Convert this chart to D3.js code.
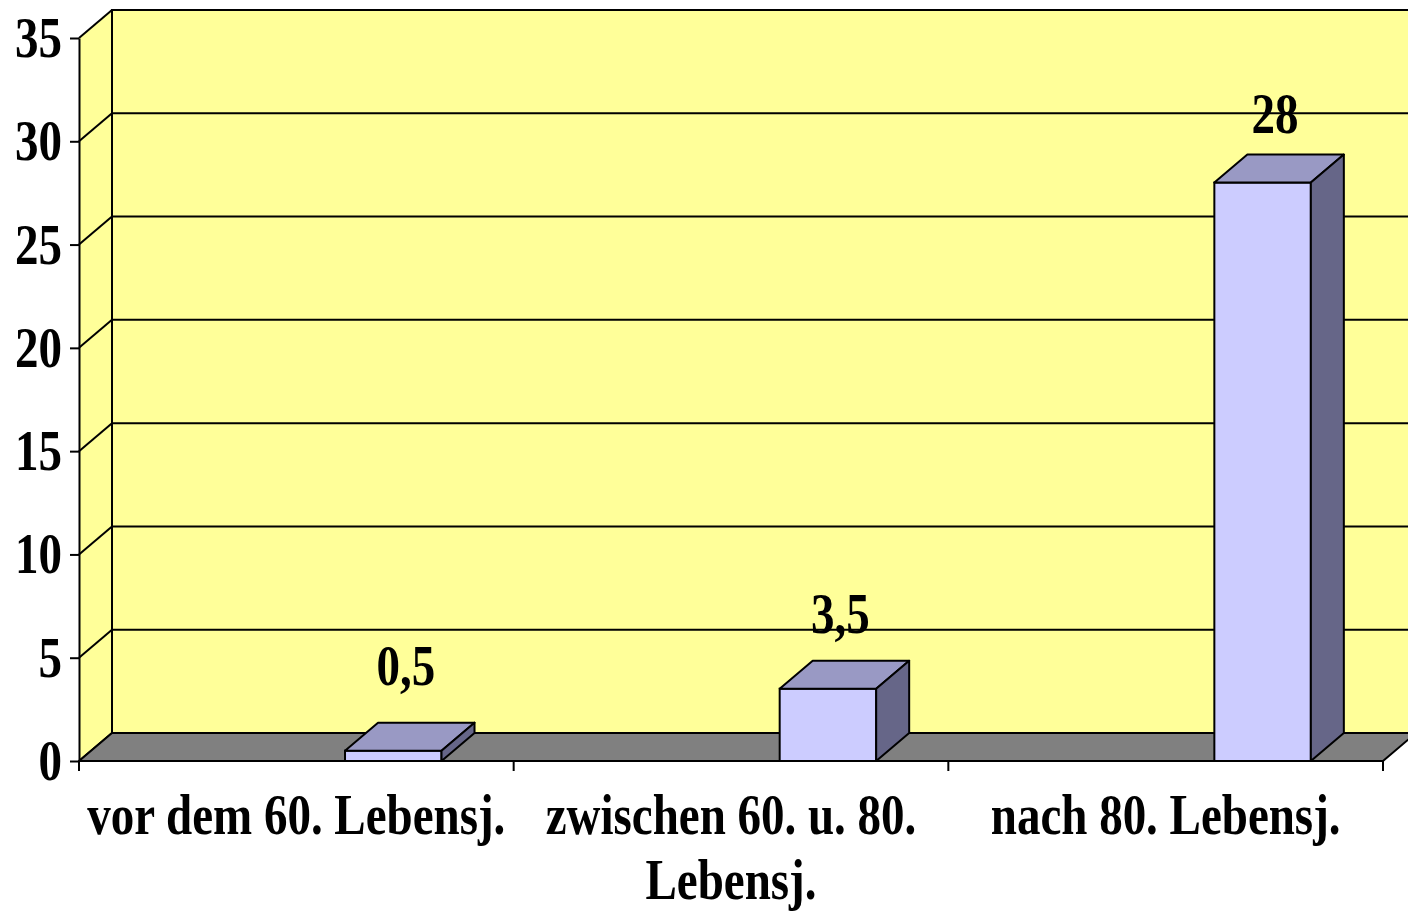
<!DOCTYPE html>
<meta charset="utf-8">
<script src="https://cdn.jsdelivr.net/npm/d3@7"></script>
<style>
  body { margin: 0; background: #fff; }
  text { font-family: "Liberation Serif", "Times New Roman", serif; font-weight: bold; fill: #000; }
</style>
<body>
<script>
  // data
  var categories = ["vor dem 60. Lebensj.", "zwischen 60. u. 80. Lebensj.", "nach 80. Lebensj."];
  var values = [0.5, 3.5, 28];
  var yTicks = [0, 5, 10, 15, 20, 25, 30, 35];

  var W = 1408, H = 914;
  var plotLeft = 79, plotRight = 1383, plotBottom = 761, plotTop = 38;
  var dx = 33, dy = 28;          // depth of the 3d box
  var squeeze = 0.81;            // text looks horizontally narrowed
  var fontSize = 58;

  var svg = d3.select("body").append("svg")
    .attr("width", W).attr("height", H);

  var x = d3.scaleBand().domain(categories).range([plotLeft, plotRight]).padding(0);
  var y = d3.scaleLinear().domain([0, 35]).range([plotBottom, plotTop]);

  // back wall
  svg.append("rect")
    .attr("x", plotLeft + dx).attr("y", plotTop - dy)
    .attr("width", W).attr("height", plotBottom - plotTop)
    .attr("fill", "#FFFF99");
  // side wall
  svg.append("polygon")
    .attr("points", [[plotLeft, plotBottom], [plotLeft, plotTop], [plotLeft + dx, plotTop - dy], [plotLeft + dx, plotBottom - dy]].join(" "))
    .attr("fill", "#FFFF99");

  // gridlines: back wall + side wall diagonals
  yTicks.forEach(function (t) {
    if (t > 0 && t < 35) {
      svg.append("line")
        .attr("x1", plotLeft + dx).attr("x2", W + 10)
        .attr("y1", y(t) - dy).attr("y2", y(t) - dy)
        .attr("stroke", "#000").attr("stroke-width", 2);
    }
    svg.append("line")
      .attr("x1", plotLeft).attr("y1", y(t))
      .attr("x2", plotLeft + dx).attr("y2", y(t) - dy)
      .attr("stroke", "#000").attr("stroke-width", 2);
  });
  // back wall frame
  svg.append("path")
    .attr("d", "M" + (plotLeft + dx) + "," + (plotBottom - dy) + "V" + (plotTop - dy) + "H" + (W + 10))
    .attr("fill", "none").attr("stroke", "#000").attr("stroke-width", 2);

  // floor
  svg.append("polygon")
    .attr("points", [[plotLeft, plotBottom], [plotRight, plotBottom], [plotRight + dx, plotBottom - dy], [plotLeft + dx, plotBottom - dy]].join(" "))
    .attr("fill", "#808080").attr("stroke", "#000").attr("stroke-width", 2)
    .attr("stroke-linejoin", "round");

  // y axis
  var yAxis = svg.append("g")
    .attr("transform", "translate(" + plotLeft + ",0)")
    .call(d3.axisLeft(y).tickValues(yTicks).tickSize(9).tickSizeOuter(0).tickFormat(""));
  yAxis.select(".domain").attr("stroke-width", 2);
  yAxis.selectAll(".tick line").attr("stroke-width", 2);

  yTicks.forEach(function (t) {
    svg.append("g")
      .attr("transform", "translate(62," + (y(t) + 19) + ") scale(" + squeeze + ",1)")
      .append("text")
      .attr("text-anchor", "end")
      .style("font-size", fontSize + "px")
      .text(t);
  });

  // x axis line and ticks at band edges
  svg.append("line")
    .attr("x1", plotLeft).attr("x2", plotRight)
    .attr("y1", plotBottom).attr("y2", plotBottom)
    .attr("stroke", "#000").attr("stroke-width", 2);
  var edges = categories.map(function (c) { return x(c); }).concat([plotRight]);
  edges.forEach(function (e) {
    svg.append("line")
      .attr("x1", e).attr("x2", e)
      .attr("y1", plotBottom).attr("y2", plotBottom + 10)
      .attr("stroke", "#000").attr("stroke-width", 2);
  });

  // bars
  var bw = x.bandwidth() * 0.222;
  var boff = x.bandwidth() * 0.612;
  var bars = svg.selectAll(".bar").data(values).enter().append("g").attr("class", "bar");
  bars.each(function (v, i) {
    var g = d3.select(this);
    var x0 = x(categories[i]) + boff, x1 = x0 + bw;
    var y0 = y(0), y1 = y(v);
    g.append("rect")
      .attr("x", x0).attr("y", y1).attr("width", bw).attr("height", y0 - y1)
      .attr("fill", "#CCCCFF").attr("stroke", "#000").attr("stroke-width", 2);
    g.append("polygon")
      .attr("points", [[x0, y1], [x1, y1], [x1 + dx, y1 - dy], [x0 + dx, y1 - dy]].join(" "))
      .attr("fill", "#9999C4").attr("stroke", "#000").attr("stroke-width", 2)
      .attr("stroke-linejoin", "round");
    g.append("polygon")
      .attr("points", [[x1, y0], [x1, y1], [x1 + dx, y1 - dy], [x1 + dx, y0 - dy]].join(" "))
      .attr("fill", "#666688").attr("stroke", "#000").attr("stroke-width", 2)
      .attr("stroke-linejoin", "round");

    // value label
    var off = 22 + 18 * Math.exp(-v / 3);
    svg.append("g")
      .attr("transform", "translate(" + (x0 + bw / 2 + dx / 2 - 4) + "," + (y1 - dy - off) + ") scale(" + squeeze + ",1)")
      .append("text")
      .attr("text-anchor", "middle")
      .style("font-size", fontSize + "px")
      .text(String(v).replace(".", ","));
  });

  // category labels, wrapped
  categories.forEach(function (c) {
    var cx = x(c) + x.bandwidth() / 2;
    var g = svg.append("g")
      .attr("transform", "translate(" + cx + ",834) scale(" + squeeze + ",1)");
    var words = c.split(" "), lines = [], line = [];
    var probe = g.append("text").style("font-size", fontSize + "px");
    words.forEach(function (w) {
      probe.text(line.concat([w]).join(" "));
      if (line.length && probe.node().getComputedTextLength() * squeeze > x.bandwidth() - 10) {
        lines.push(line.join(" "));
        line = [w];
      } else {
        line.push(w);
      }
    });
    lines.push(line.join(" "));
    probe.remove();
    lines.forEach(function (l, k) {
      g.append("text")
        .attr("text-anchor", "middle")
        .attr("y", k * 65)
        .style("font-size", fontSize + "px")
        .text(l);
    });
  });
</script>
</body>
